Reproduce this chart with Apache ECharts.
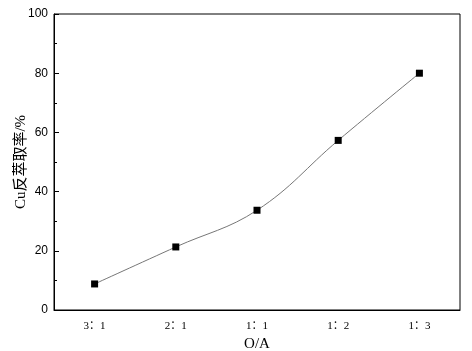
<!DOCTYPE html>
<html><head><meta charset="utf-8">
<script src="https://cdn.jsdelivr.net/npm/echarts@6/dist/echarts.min.js"></script>
<style>html,body{margin:0;padding:0;background:#fff}#c{width:472px;height:351px}</style>
</head><body><div id="c"></div>
<script>
var categories = ['3：1', '2：1', '1：1', '1：2', '1：3'];
var values = [8.8, 21.3, 33.7, 57.3, 80.0];
var yTicks = [0, 20, 40, 60, 80, 100];

var chart = echarts.init(document.getElementById('c'));
var serif = '"Liberation Serif", "DejaVu Serif", "Noto Sans CJK SC", serif';
chart.setOption({
  animation: false,
  backgroundColor: '#fff',
  grid: {left: 54, right: 12, top: 14, bottom: 41, show: true, borderColor: '#000', borderWidth: 1, outerBoundsMode: 'none', containLabel: false},
  xAxis: [{
    type: 'category', data: categories, boundaryGap: true,
    name: 'O/A', nameLocation: 'middle', nameGap: 27, nameMoveOverlap: false,
    nameTextStyle: {fontFamily: serif, fontSize: 15, color: '#000'},
    axisLine: {lineStyle: {color: '#000', width: 1}},
    axisTick: {alignWithLabel: true, inside: true, length: 5, lineStyle: {color: '#000'}},
    axisLabel: {fontFamily: serif, fontSize: 11, color: '#000', margin: 11},
    splitLine: {show: false}
  }, {
    type: 'category', data: categories, boundaryGap: true, position: 'bottom',
    axisLine: {show: false},
    axisTick: {inside: true, length: 3, lineStyle: {color: '#000'}},
    axisLabel: {show: false},
    splitLine: {show: false}
  }],
  yAxis: {
    type: 'value', min: yTicks[0], max: yTicks[yTicks.length - 1], interval: 20,
    name: 'Cu反萃取率/%', nameLocation: 'middle', nameGap: 25, nameMoveOverlap: false,
    nameTextStyle: {fontFamily: serif, fontSize: 15, color: '#000'},
    axisLine: {show: true, lineStyle: {color: '#000', width: 1}},
    axisTick: {show: true, inside: true, length: 5, lineStyle: {color: '#000'}},
    minorTick: {show: true, splitNumber: 2, length: 3, lineStyle: {color: '#000'}},
    axisLabel: {fontFamily: '"Liberation Sans", Arial, sans-serif', fontSize: 12, color: '#000', margin: 6},
    splitLine: {show: false}
  },
  series: [{
    type: 'line', xAxisIndex: 0, data: values, smooth: 0.4,
    symbol: 'rect', symbolSize: 7,
    itemStyle: {color: '#000'},
    lineStyle: {color: '#777', width: 1}
  }]
});
</script></body></html>
